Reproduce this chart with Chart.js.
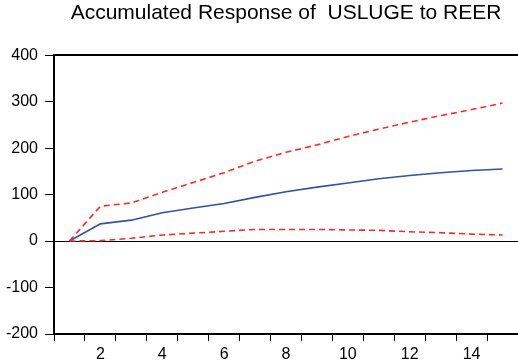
<!DOCTYPE html>
<html>
<head>
<meta charset="utf-8">
<script src="https://cdn.jsdelivr.net/npm/chart.js@4"></script>
<style>
  html, body { margin: 0; padding: 0; background: #fff; }
  canvas { display: block; }
</style>
</head>
<body>
<canvas id="irf" width="518" height="364"></canvas>
<script>
const periods = ['1', '2', '3', '4', '5', '6', '7', '8', '9', '10', '11', '12', '13', '14', '15'];
const response = [0, 37, 45, 61, 71, 81, 94, 106, 116, 125, 134, 141, 147, 152, 155];
const upperBand = [0, 75, 82, 105, 126, 147, 172, 191, 207, 225, 241, 256, 270, 283, 297];
const lowerBand = [0, 1, 6, 13, 17, 21, 25, 25, 25, 24, 23, 20, 18, 15, 13];

const FONT = 'Arial, "Liberation Sans", sans-serif';
const RED = '#ff2b2b';
const BLUE = '#3452a3';

const ctx = document.getElementById('irf').getContext('2d');
new Chart(ctx, {
  type: 'line',
  data: {
    labels: periods,
    datasets: [
      { data: upperBand, borderColor: RED, borderWidth: 1.6, borderDash: [6, 4], pointRadius: 0, tension: 0 },
      { data: response, borderColor: BLUE, borderWidth: 1.6, pointRadius: 0, tension: 0 },
      { data: lowerBand, borderColor: RED, borderWidth: 1.6, borderDash: [6, 4], pointRadius: 0, tension: 0 },
    ],
  },
  options: {
    responsive: false,
    animation: false,
    layout: { padding: 0 },
    plugins: {
      legend: { display: false },
      tooltip: { enabled: false },
    },
    scales: {
      x: {
        type: 'category',
        offset: true,
        afterFit: (scale) => { scale.height = 30; },
        grid: { offset: true, drawOnChartArea: false, drawTicks: true, tickLength: 7, tickColor: '#000' },
        border: { color: '#000', width: 2 },
        ticks: {
          color: '#000',
          font: { family: FONT, size: 16 },
          autoSkip: false,
          maxRotation: 0,
          padding: 4,
          callback: function (value) {
            const lab = this.getLabelForValue(value);
            return Number(lab) % 2 === 0 ? lab : '';
          },
        },
      },
      // top frame line, carries the chart title centred over the plot
      xTop: {
        type: 'category',
        position: 'top',
        offset: true,
        grid: { drawOnChartArea: false, drawTicks: false },
        border: { color: '#000', width: 2 },
        ticks: { display: false },
        title: {
          display: true,
          text: 'Accumulated Response of  USLUGE to REER',
          color: '#000',
          font: { family: FONT, size: 21, weight: 'normal' },
          padding: { top: 1, bottom: 29 },
        },
      },
      y: {
        min: -200,
        max: 400,
        afterFit: (scale) => { scale.width = 54; },
        ticks: { stepSize: 100, color: '#000', font: { family: FONT, size: 16 }, padding: 7 },
        grid: {
          drawTicks: true,
          tickLength: 9,
          tickColor: '#000',
          color: (c) => (c.tick && c.tick.value === 0 ? '#000' : 'rgba(0,0,0,0)'),
          lineWidth: 1,
        },
        border: { color: '#000', width: 2 },
      },
    },
  },
});
</script>
</body>
</html>
